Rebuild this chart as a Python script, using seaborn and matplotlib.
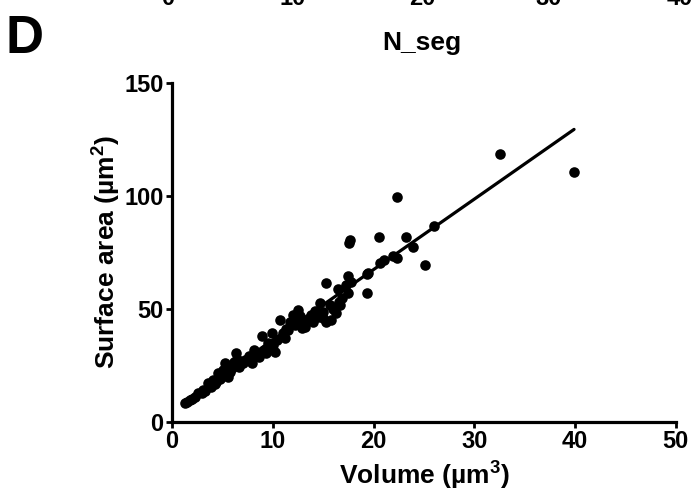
import matplotlib
matplotlib.use("Agg")
import matplotlib.pyplot as plt
import numpy as np
import pandas as pd
import seaborn as sns

# Volume (um^3) vs surface area (um^2)
volume = [1.3, 1.5, 1.8, 2.0, 2.3, 2.6, 3.0, 3.1, 3.3, 3.6, 3.9, 4.1, 4.3, 4.4,
          4.6, 4.8, 5.0, 5.1, 5.3, 5.6, 5.8, 6.0, 6.2, 6.4, 6.5, 6.7, 7.0, 7.2,
          7.5, 7.6, 7.9, 8.1, 8.2, 8.5, 8.6, 8.9, 9.1, 9.3, 9.5, 9.7, 9.9, 10.0,
          10.2, 10.4, 10.7, 11.0, 11.2, 11.3, 11.5, 11.7, 12.0, 12.2, 12.3, 12.5,
          12.7, 12.9, 13.0, 13.2, 13.4, 13.8, 14.0, 14.2, 14.5, 14.7, 15.0, 15.0,
          15.3, 15.3, 15.7, 15.8, 16.0, 16.3, 16.5, 16.6, 16.7, 16.9, 17.3, 17.5,
          17.5, 17.6, 17.7, 17.8, 19.4, 19.4, 19.5, 20.5, 20.6, 21.0, 21.9, 22.3,
          22.3, 23.2, 23.9, 25.1, 26.0, 32.6, 39.9]
surface = [8.5, 8.9, 9.6, 10.0, 11.0, 12.6, 12.8, 14.0, 13.5, 17.0, 15.5, 18.5,
           16.5, 17.5, 21.4, 19.0, 20.5, 22.9, 25.9, 19.9, 22.0, 24.0, 26.5, 30.3,
           28.0, 24.4, 26.0, 27.3, 28.0, 29.0, 25.9, 31.8, 29.5, 30.0, 28.5, 38.0,
           31.8, 30.5, 35.0, 33.2, 39.2, 34.0, 31.0, 36.0, 45.0, 39.2, 37.0, 41.0,
           40.5, 44.3, 47.3, 43.0, 46.0, 49.5, 47.0, 41.4, 43.6, 42.0, 45.0, 47.5,
           44.0, 49.0, 46.5, 52.4, 48.7, 45.8, 61.3, 44.3, 51.7, 45.0, 50.0, 48.0,
           59.0, 53.0, 51.7, 55.0, 60.5, 64.5, 56.9, 79.0, 80.5, 62.0, 65.4, 57.1,
           65.7, 81.8, 70.4, 71.5, 73.4, 72.6, 99.7, 81.8, 77.4, 69.5, 86.7, 118.6,
           110.6]

x_ticks = [0, 10, 20, 30, 40, 50]
y_ticks = [0, 50, 100, 150]
prev_ticks = ["0", "10", "20", "30", "40"]

df = pd.DataFrame({"Volume": volume, "Surface": surface})

sns.set_style("ticks")
plt.rcParams["font.family"] = ["Liberation Sans", "DejaVu Sans"]
plt.rcParams["font.weight"] = "bold"
plt.rcParams["text.color"] = "black"
plt.rcParams["axes.labelcolor"] = "black"
plt.rcParams["xtick.color"] = "black"
plt.rcParams["ytick.color"] = "black"
plt.rcParams["axes.edgecolor"] = "black"
plt.rcParams["mathtext.fontset"] = "custom"
plt.rcParams["mathtext.rm"] = "Liberation Sans:bold"
plt.rcParams["mathtext.bf"] = "Liberation Sans:bold"
plt.rcParams["mathtext.it"] = "Liberation Sans:bold"

fig = plt.figure(figsize=(6.94, 4.95), dpi=100)
ax = fig.add_axes([0.2478, 0.148, 0.726, 0.684])

sns.regplot(data=df, x="Volume", y="Surface", ax=ax, ci=None, color="black",
            scatter_kws={"s": 58, "alpha": 1, "linewidths": 0},
            line_kws={"linewidth": 2.3})

ax.set_xlim(0, 50)
ax.set_ylim(0, 150)
ax.set_xticks(x_ticks)
ax.set_yticks(y_ticks)
ax.set_xlabel(r"Volume (µm$^{3}$)", fontsize=19, fontweight="bold", labelpad=5)
ax.set_ylabel(r"Surface area (µm$^{2}$)", fontsize=19, fontweight="bold", labelpad=1)
ax.tick_params(axis="both", labelsize=17, width=2, length=4, pad=2)
for lab in ax.get_xticklabels() + ax.get_yticklabels():
    lab.set_fontweight("bold")
for side in ["left", "bottom"]:
    ax.spines[side].set_linewidth(2.3)
sns.despine(ax=ax)
ax.patch.set_alpha(0)

# remnants of the panel above
prev_x = [0.241, 0.422, 0.608, 0.791, 0.980]
for px, t in zip(prev_x, prev_ticks):
    fig.text(px, 1.003, t, ha="center", va="center", fontsize=17, fontweight="bold")
fig.text(0.608, 0.913, "N_seg", ha="center", va="center", fontsize=19, fontweight="bold")
fig.text(0.008, 0.921, "D", ha="left", va="center", fontsize=38, fontweight="bold")

fig.savefig("out.png", dpi=100)
